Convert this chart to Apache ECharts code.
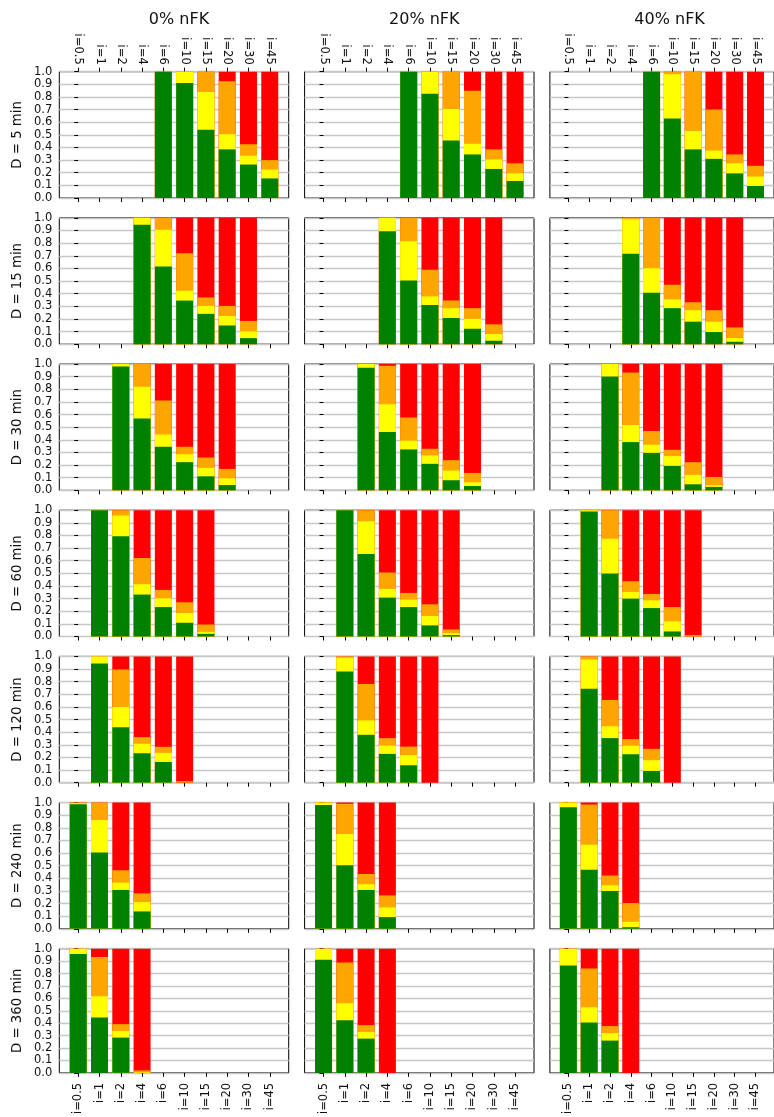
<!DOCTYPE html>
<html>
<head>
<meta charset="utf-8">
<script src="https://cdn.jsdelivr.net/npm/echarts@6/dist/echarts.min.js"></script>
<style>
html,body{margin:0;padding:0;background:#fff;}
#chart{width:774px;height:1117px;}
</style>
</head>
<body>
<div id="chart"></div>
<script>
// ---------- categories & labels ----------
const categories = ['i=0.5','i=1','i=2','i=4','i=6','i=10','i=15','i=20','i=30','i=45'];
const columnTitles = ['0% nFK','20% nFK','40% nFK'];
const durationLabels = ['D = 5 min','D = 15 min','D = 30 min','D = 60 min','D = 120 min','D = 240 min','D = 360 min'];
const yTickLabels = ['0.0','0.1','0.2','0.3','0.4','0.5','0.6','0.7','0.8','0.9','1.0'];

// Each array: [0% nFK, 20% nFK, 40% nFK], values = top of each colour band (cumulative), total = top of red band
// ---- D = 5 min ----
const d5_green  = [[0,0,0,0,1,0.91,0.54,0.385,0.265,0.155],[0,0,0,0,1,0.825,0.455,0.345,0.23,0.135],[0,0,0,0,1,0.63,0.385,0.31,0.195,0.095]];
const d5_yellow = [[0,0,0,0,1,1,0.84,0.505,0.335,0.225],[0,0,0,0,1,1,0.705,0.43,0.305,0.195],[0,0,0,0,1,0.98,0.53,0.375,0.275,0.17]];
const d5_orange = [[0,0,0,0,1,1,1,0.925,0.425,0.30],[0,0,0,0,1,1,1,0.85,0.385,0.275],[0,0,0,0,1,1,1,0.70,0.345,0.255]];
const d5_total  = [[0,0,0,0,1,1,1,1,1,1],[0,0,0,0,1,1,1,1,1,1],[0,0,0,0,1,1,1,1,1,1]];
// ---- D = 15 min ----
const d15_green  = [[0,0,0,0.945,0.615,0.345,0.24,0.148,0.048,0],[0,0,0,0.895,0.505,0.31,0.207,0.122,0.027,0],[0,0,0,0.715,0.407,0.285,0.178,0.096,0.019,0]];
const d15_yellow = [[0,0,0,1,0.905,0.423,0.303,0.223,0.101,0],[0,0,0,1,0.814,0.378,0.285,0.2,0.08,0],[0,0,0,0.99,0.601,0.354,0.269,0.178,0.048,0]];
const d15_orange = [[0,0,0,1,1,0.72,0.37,0.303,0.184,0],[0,0,0,1,1,0.59,0.346,0.285,0.157,0],[0,0,0,1,1,0.471,0.332,0.269,0.133,0]];
const d15_total  = [[0,0,0,1,1,1,1,1,1,0],[0,0,0,1,1,1,1,1,1,0],[0,0,0,1,1,1,1,1,1,0]];
// ---- D = 30 min ----
const d30_green  = [[0,0,0.981,0.568,0.345,0.223,0.111,0.042,0,0],[0,0,0.971,0.462,0.324,0.21,0.08,0.034,0,0],[0,0,0.902,0.382,0.297,0.194,0.048,0.027,0,0]];
const d30_yellow = [[0,0,1,0.82,0.443,0.286,0.178,0.095,0,0],[0,0,1,0.682,0.393,0.276,0.156,0.064,0,0],[0,0,1,0.517,0.361,0.271,0.122,0.04,0,0]];
const d30_orange = [[0,0,1,1,0.711,0.345,0.26,0.17,0,0],[0,0,1,0.987,0.576,0.329,0.239,0.138,0,0],[0,0,1,0.934,0.469,0.321,0.223,0.106,0,0]];
const d30_total  = [[0,0,1,1,1,1,1,1,0,0],[0,0,1,1,1,1,1,1,0,0],[0,0,1,1,1,1,1,1,0,0]];
// ---- D = 60 min ----
const d60_green  = [[0,1,0.793,0.332,0.233,0.109,0.021,0,0,0],[0,1,0.653,0.308,0.233,0.088,0.011,0,0,0],[0,0.99,0.499,0.3,0.225,0.04,0,0,0,0]];
const d60_yellow = [[0,1,0.958,0.414,0.302,0.186,0.037,0,0,0],[0,1,0.912,0.377,0.292,0.162,0.027,0,0,0],[0,1,0.775,0.353,0.286,0.12,0,0,0,0]];
const d60_orange = [[0,1,1,0.621,0.369,0.271,0.095,0,0,0],[0,1,1,0.507,0.345,0.255,0.056,0,0,0],[0,1,1,0.438,0.337,0.233,0.011,0,0,0]];
const d60_total  = [[0,1,1,1,1,1,1,0,0,0],[0,1,1,1,1,1,1,0,0,0],[0,1,1,1,1,1,1,0,0,0]];
// ---- D = 120 min ----
const d120_green  = [[0,0.944,0.438,0.233,0.164,0,0,0,0,0],[0,0.881,0.379,0.228,0.138,0,0,0,0,0],[0,0.743,0.353,0.225,0.093,0,0,0,0,0]];
const d120_yellow = [[0,1,0.6,0.308,0.236,0,0,0,0,0],[0,0.99,0.493,0.294,0.218,0,0,0,0,0],[0,0.976,0.446,0.292,0.178,0,0,0,0,0]];
const d120_orange = [[0,1,0.897,0.361,0.284,0.012,0,0,0,0],[0,1,0.782,0.353,0.286,0,0,0,0,0],[0,1,0.655,0.345,0.268,0,0,0,0,0]];
const d120_total  = [[0,1,1,1,1,1,0,0,0,0],[0,1,1,1,1,1,0,0,0,0],[0,1,1,1,1,1,0,0,0,0]];
// ---- D = 240 min ----
const d240_green  = [[0.987,0.605,0.308,0.138,0,0,0,0,0,0],[0.981,0.504,0.308,0.093,0,0,0,0,0,0],[0.963,0.467,0.3,0.013,0,0,0,0,0,0]];
const d240_yellow = [[0.995,0.862,0.366,0.212,0,0,0,0,0,0],[1,0.751,0.353,0.17,0,0,0,0,0,0],[1,0.666,0.345,0.056,0,0,0,0,0,0]];
const d240_orange = [[1,1,0.464,0.281,0,0,0,0,0,0],[1,0.99,0.435,0.265,0,0,0,0,0,0],[1,0.984,0.422,0.204,0,0,0,0,0,0]];
const d240_total  = [[1,1,1,1,0,0,0,0,0,0],[1,1,1,1,0,0,0,0,0,0],[1,1,1,1,0,0,0,0,0,0]];
// ---- D = 360 min ----
const d360_green  = [[0.958,0.446,0.284,0,0,0,0,0,0,0],[0.912,0.424,0.276,0,0,0,0,0,0,0],[0.865,0.406,0.26,0,0,0,0,0,0,0]];
const d360_yellow = [[1,0.618,0.337,0.005,0,0,0,0,0,0],[1,0.56,0.329,0,0,0,0,0,0,0],[1,0.528,0.321,0,0,0,0,0,0,0]];
const d360_orange = [[1,0.934,0.393,0.02,0,0,0,0,0,0],[1,0.889,0.385,0,0,0,0,0,0,0],[1,0.841,0.377,0,0,0,0,0,0,0]];
const d360_total  = [[1,1,1,1,0,0,0,0,0,0],[1,1,1,1,0,0,0,0,0,0],[1,1,1,1,0,0,0,0,0,0]];

const rowsData = [
  [d5_green, d5_yellow, d5_orange, d5_total],
  [d15_green, d15_yellow, d15_orange, d15_total],
  [d30_green, d30_yellow, d30_orange, d30_total],
  [d60_green, d60_yellow, d60_orange, d60_total],
  [d120_green, d120_yellow, d120_orange, d120_total],
  [d240_green, d240_yellow, d240_orange, d240_total],
  [d360_green, d360_yellow, d360_orange, d360_total]
];

// ---------- layout / style ----------
const FONT = 'DejaVu Sans';
const TEXT = '#111';
const COLORS = {green:'#008000', yellow:'#ffff00', orange:'#ffa500', red:'#ff0000'};
const LEFT0 = 59.3, COLSTEP = 245.3, PW = 229.4;
const TOP0 = 71.7, ROWSTEP = 146.17, PH = 126.3;
const XMIN = -0.89, XMAX = 9.89;
const idx = categories.map((_, i) => i);

const grids = [], xAxes = [], yAxes = [], series = [], titles = [];

columnTitles.forEach((t, c) => {
  titles.push({
    text: t, left: LEFT0 + c * COLSTEP + PW / 2, top: 7, textAlign: 'center',
    textStyle: {fontFamily: FONT, fontSize: 16, fontWeight: 'normal', color: TEXT}
  });
});

function xAxisCfg(g, pos, showLabel) {
  return {
    gridIndex: g, type: 'value', position: pos, min: XMIN, max: XMAX,
    axisLine: {show: false}, splitLine: {show: false},
    axisTick: {show: true, length: 4, customValues: idx, lineStyle: {color: '#000', width: 1}},
    axisLabel: {
      show: showLabel, customValues: idx, rotate: 90, margin: pos === 'top' ? 7 : 10,
      formatter: v => categories[Math.round(v)],
      fontFamily: FONT, fontSize: 11.5, color: TEXT
    }
  };
}

rowsData.forEach((rd, r) => {
  const [gArr, yArr, oArr, tArr] = rd;
  for (let c = 0; c < 3; c++) {
    const g = grids.length;
    grids.push({
      left: LEFT0 + c * COLSTEP, top: TOP0 + r * ROWSTEP, width: PW, height: PH,
      show: true, borderColor: '#000', borderWidth: 1, backgroundColor: 'rgba(0,0,0,0)'
    });
    const xi = xAxes.length;
    xAxes.push(xAxisCfg(g, 'bottom', r === 6));
    if (r === 0) xAxes.push(xAxisCfg(g, 'top', true));
    const yi = yAxes.length;
    yAxes.push({
      gridIndex: g, type: 'value', min: 0, max: 1, interval: 0.1,
      axisLine: {show: false},
      axisTick: {show: true, length: 4, lineStyle: {color: '#000', width: 1}},
      axisLabel: {
        show: c === 0, margin: 7,
        formatter: v => yTickLabels[Math.round(v * 10)],
        fontFamily: FONT, fontSize: 11.5, color: TEXT
      },
      splitLine: {show: true, lineStyle: {color: '#c8c8c8', width: 1.4}},
      name: c === 0 ? durationLabels[r] : '',
      nameLocation: 'middle', nameGap: 35,
      nameTextStyle: {fontFamily: FONT, fontSize: 13.3, color: TEXT}
    });
    const layers = [
      ['red', tArr[c]], ['orange', oArr[c]], ['yellow', yArr[c]], ['green', gArr[c]]
    ];
    layers.forEach(([name, arr]) => {
      series.push({
        type: 'bar', xAxisIndex: xi, yAxisIndex: yi,
        barWidth: 17, barGap: '-100%',
        itemStyle: {color: COLORS[name], borderWidth: 0},
        silent: true,
        data: arr.map((v, i) => (v > 0 ? [i, v] : [i, '-']))
      });
    });
  }
});

const chart = echarts.init(document.getElementById('chart'), null, {renderer: 'canvas'});
chart.setOption({
  animation: false,
  backgroundColor: '#fff',
  title: titles,
  grid: grids,
  xAxis: xAxes,
  yAxis: yAxes,
  series: series
});
</script>
</body>
</html>
